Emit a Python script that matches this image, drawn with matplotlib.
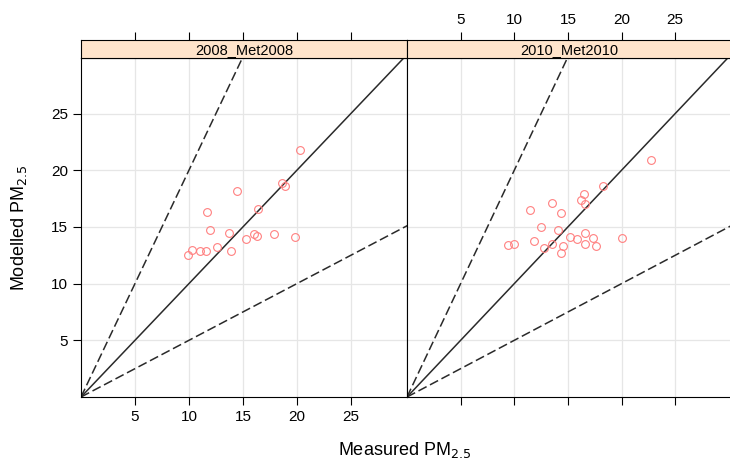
import matplotlib
matplotlib.use("Agg")
import matplotlib.pyplot as plt
import numpy as np

plt.rcParams['font.family'] = ['Liberation Sans Narrow', 'Liberation Sans', 'DejaVu Sans']

panels = ["2008_Met2008", "2010_Met2010"]
meas_2008 = [20.3, 18.6, 18.9, 14.45, 11.7, 16.4, 11.97, 13.7, 16.0, 16.3, 17.9, 19.8,
             15.3, 12.6, 13.9, 10.3, 11.0, 11.6, 9.95]
mod_2008 = [21.8, 18.9, 18.65, 18.2, 16.3, 16.6, 14.7, 14.5, 14.4, 14.2, 14.4, 14.1,
            13.9, 13.2, 12.9, 13.0, 12.85, 12.85, 12.5]
meas_2010 = [22.7, 18.3, 16.5, 16.2, 16.6, 13.5, 11.45, 14.4, 12.5, 14.1, 16.6, 15.2,
             15.8, 17.3, 20.0, 16.6, 17.6, 11.85, 13.5, 12.8, 14.5, 14.35, 9.4, 9.97]
mod_2010 = [20.9, 18.6, 17.9, 17.4, 17.0, 17.1, 16.5, 16.2, 15.0, 14.7, 14.5, 14.1,
            13.9, 14.0, 14.0, 13.5, 13.3, 13.8, 13.5, 13.1, 13.3, 12.7, 13.4, 13.5]
ticks = [5, 10, 15, 20, 25]
xlim = (0, 30.2)
ylim = (0, 29.9)

W, H = 730, 461
fig = plt.figure(figsize=(W / 100, H / 100), dpi=100)

def fx(px):
    return px / W

def fy(py):
    return 1 - py / H

left_px = [81, 407]
right_px = [407, 731]
top_px, bot_px, strip_top = 58, 397, 40

data = [(meas_2008, mod_2008), (meas_2010, mod_2010)]
line_col = '#2a2a2a'
pt_col = '#FF8080'

for i in range(2):
    x0, x1 = left_px[i], right_px[i]
    ax = fig.add_axes([fx(x0), fy(bot_px), fx(x1 - x0), (bot_px - top_px) / H])
    sax = fig.add_axes([fx(x0), fy(top_px), fx(x1 - x0), (top_px - strip_top) / H], sharex=ax)
    ax.set_xlim(*xlim)
    ax.set_ylim(*ylim)
    for t in ticks:
        ax.axvline(t, color='#e6e6e6', lw=0.9, zorder=0)
        ax.axhline(t, color='#e6e6e6', lw=0.9, zorder=0)
    xx = np.array([0, 40])
    ax.plot(xx, xx, color=line_col, lw=1.1)
    ax.plot(xx, 2 * xx, color=line_col, lw=1.1, dashes=(6, 2.5))
    ax.plot(xx, 0.5 * xx, color=line_col, lw=1.1, dashes=(6, 2.5))
    mx, my = data[i]
    ax.plot(mx, my, 'o', mfc='none', mec=pt_col, ms=5.6, mew=0.8, ls='none')
    ax.set_xticks(ticks)
    ax.set_yticks(ticks)
    ax.tick_params(direction='out', length=6, width=0.8, labelsize=11, colors='black')
    if i == 0:
        ax.tick_params(labelbottom=True, labelleft=True, left=True, right=False)
    else:
        ax.tick_params(labelbottom=False, labelleft=False, left=False, right=False)
    for s in ax.spines.values():
        s.set_linewidth(0.8)
    # strip
    sax.set_facecolor('#FFE4CB')
    sax.set_yticks([])
    sax.tick_params(axis='x', which='both', bottom=False, labelbottom=False,
                    top=True, labeltop=(i == 1), direction='out', length=6, width=0.8,
                    labelsize=11)
    sax.set_xticks(ticks)
    for s in sax.spines.values():
        s.set_linewidth(0.8)
    sax.text(0.5, 0.45, panels[i], transform=sax.transAxes, ha='center', va='center',
             fontsize=10.5)

fig.text(fx(405), fy(450), 'Measured PM$_{2.5}$', ha='center', va='center', fontsize=13)
fig.text(fx(19), fy(228), 'Modelled PM$_{2.5}$', ha='center', va='center', fontsize=13,
         rotation=90)

fig.savefig('out.png', dpi=100)
